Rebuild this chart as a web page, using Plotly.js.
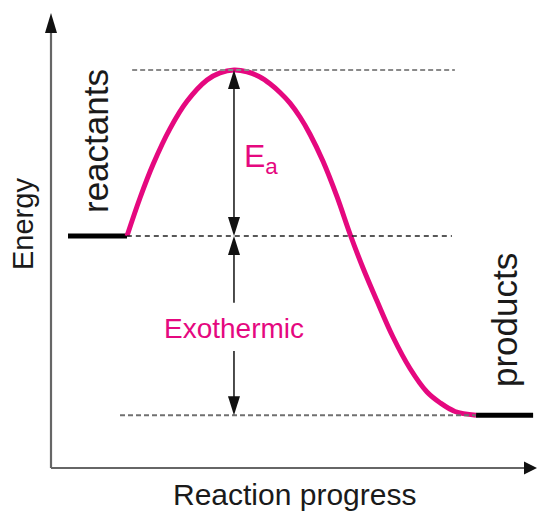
<!DOCTYPE html>
<html><head><meta charset="utf-8">
<script src="https://cdn.plot.ly/plotly-3.0.1.min.js"></script>
<style>html,body{margin:0;padding:0;background:#fff;overflow:hidden}</style>
</head><body><div id="chart" style="width:539px;height:512px"></div>
<script>
// ---- data (progress 0-100, energy 0-100) ----
const reactantsEnergy = 51.0;
const peakEnergy = 87.5;
const productsEnergy = 11.6;
const peakProgress = 37.65;
const curveProgress = [15.64, 18.31, 20.99, 24.49, 27.98, 32.10, 34.77, 37.65, 40.33, 43.00, 45.06, 47.12, 49.18, 51.23, 53.29, 55.97, 58.85, 61.52, 64.20, 67.08, 70.37, 73.87, 77.37, 80.04, 83.13, 87.45];
const curveEnergy   = [51.00, 59.34, 66.70, 74.59, 80.59, 85.27, 86.84, 87.47, 87.08, 85.93, 84.44, 82.53, 80.20, 77.14, 73.36, 67.41, 59.63, 51.43, 43.96, 36.70, 28.79, 21.87, 16.70, 14.35, 12.42, 11.60];
const reactantsProgress = [3.5, 15.64];
const productsProgress = [87.45, 99.2];
const peakDashProgress = [16.7, 83.1];
const reactantsDashProgress = [15.6, 82.5];
const productsDashProgress = [14.2, 87.4];
const labels = {reactants: 'reactants', products: 'products', ea: 'E<sub>a</sub>', exo: 'Exothermic', x: 'Reaction progress', y: 'Energy'};

// ---- styling ----
const PINK = '#e5087f';
const INK = '#1a1a1a';
const FONT = 'Liberation Sans, Arial, Helvetica, sans-serif';
const SX = 4.86, SY = 4.55;           // px per data unit
const X0 = -51 / SX, Y0 = -44 / SY;   // range starts

function head(x, y, dir, len, half) {
  let p;
  if (dir === 'up') { const L = len / SY, H = half / SX; p = `M${x},${y} L${x - H},${y - L} L${x + H},${y - L} Z`; }
  else if (dir === 'down') { const L = len / SY, H = half / SX; p = `M${x},${y} L${x - H},${y + L} L${x + H},${y + L} Z`; }
  else { const L = len / SX, H = half / SY; p = `M${x},${y} L${x - L},${y - H} L${x - L},${y + H} Z`; }
  return {type: 'path', xref: 'x', yref: 'y', path: p, fillcolor: '#111', line: {width: 0}};
}
function seg(x0, y0, x1, y1, color, width, dash) {
  return {type: 'line', xref: 'x', yref: 'y', x0, y0, x1, y1, line: {color, width, dash: dash || 'solid'}};
}

const exoGapTop = 36.3, exoGapBottom = 25.7;

const shapes = [
  // axes
  seg(0, 0, 0, 100 - 18 / SY, '#666', 2.2),
  seg(0, 0, 100 - 12 / SX, 0, '#666', 2.2),
  head(0, 100, 'up', 20, 6),
  head(100, 0, 'right', 13, 6.5),
  // dashed guide lines
  seg(peakDashProgress[0], peakEnergy, peakDashProgress[1], peakEnergy, '#8a8a8a', 2, '5px,3px'),
  seg(reactantsDashProgress[0], reactantsEnergy, reactantsDashProgress[1], reactantsEnergy, '#222', 1.4, '5px,4px'),
  seg(productsDashProgress[0], productsEnergy, productsDashProgress[1], productsEnergy, '#707070', 2, '5px,3px'),
  // Ea double arrow
  seg(peakProgress, reactantsEnergy + 10 / SY, peakProgress, peakEnergy - 10 / SY, '#111', 1.5),
  head(peakProgress, peakEnergy, 'up', 19, 6),
  head(peakProgress, reactantsEnergy, 'down', 19, 6),
  // exothermic arrow (split around label)
  seg(peakProgress, exoGapTop, peakProgress, reactantsEnergy - 10 / SY, '#111', 1.5),
  head(peakProgress, reactantsEnergy, 'up', 19, 6),
  seg(peakProgress, productsEnergy + 10 / SY, peakProgress, exoGapBottom, '#111', 1.5),
  head(peakProgress, productsEnergy, 'down', 19, 6)
];

const traces = [
  {x: reactantsProgress, y: [reactantsEnergy, reactantsEnergy], mode: 'lines', line: {color: '#000', width: 5}, hoverinfo: 'skip'},
  {x: productsProgress, y: [productsEnergy, productsEnergy], mode: 'lines', line: {color: '#000', width: 5}, hoverinfo: 'skip'},
  {x: curveProgress, y: curveEnergy, mode: 'lines', line: {color: PINK, width: 5, shape: 'spline', smoothing: 1}, hoverinfo: 'skip'}
];

function ann(text, x, y, size, color, angle, xanchor) {
  return {text, x, y, xref: 'x', yref: 'y', showarrow: false, textangle: angle || 0,
    xanchor: xanchor || 'center', yanchor: 'middle', font: {family: FONT, size, color}};
}
const annotations = [
  ann(labels.reactants, (95 - 51) / SX, (468 - 141) / SY, 35, INK, -90),
  ann(labels.products, (504 - 51) / SX, (468 - 320) / SY, 35, INK, -90),
  ann(labels.y, (23 - 51) / SX, (468 - 224) / SY, 29, INK, -90),
  ann(labels.x, (294 - 51) / SX, (468 - 494) / SY, 30, INK, 0),
  ann(labels.exo, peakProgress, (468 - 328) / SY, 28, PINK, 0),
  ann(labels.ea, (242 - 51) / SX, (468 - 158) / SY, 32, PINK, 0, 'left')
];

const layout = {
  width: 539, height: 512,
  margin: {l: 0, r: 0, t: 0, b: 0, pad: 0},
  paper_bgcolor: '#fff', plot_bgcolor: '#fff',
  showlegend: false,
  xaxis: {range: [X0, X0 + 539 / SX], visible: false, fixedrange: true},
  yaxis: {range: [Y0, Y0 + 512 / SY], visible: false, fixedrange: true},
  shapes, annotations
};
Plotly.newPlot('chart', traces, layout, {displayModeBar: false, staticPlot: true});
</script></body></html>
